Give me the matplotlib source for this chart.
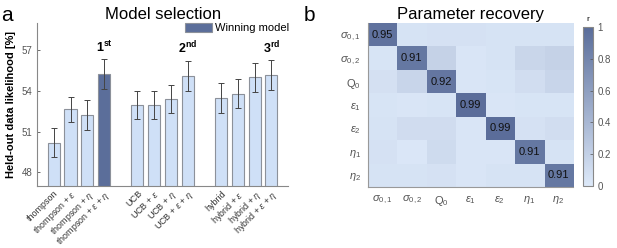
import numpy as np
import matplotlib
matplotlib.use('Agg')
import matplotlib.pyplot as plt
from matplotlib.colors import LinearSegmentedColormap
from matplotlib.patches import Patch

plt.rcParams['font.family'] = ['Liberation Sans', 'DejaVu Sans']
plt.rcParams['mathtext.fontset'] = 'custom'
plt.rcParams['mathtext.rm'] = 'Liberation Sans'
plt.rcParams['mathtext.it'] = 'Liberation Sans:italic'
plt.rcParams['mathtext.bf'] = 'Liberation Sans:bold'

# --- data: model selection ---
model_labels = ['thompson', r'thompson + $\epsilon$', r'thompson + $\eta$', r'thompson + $\epsilon$ + $\eta$',
                'UCB', r'UCB + $\epsilon$', r'UCB + $\eta$', r'UCB + $\epsilon$ + $\eta$',
                'hybrid', r'hybrid + $\epsilon$', r'hybrid + $\eta$', r'hybrid + $\epsilon$ + $\eta$']
bar_pos = [1, 2, 3, 4, 6, 7, 8, 9, 11, 12, 13, 14]
likelihood = [50.2, 52.65, 52.25, 55.25, 52.95, 52.95, 53.4, 55.1, 53.48, 53.8, 55.0, 55.15]
likelihood_se = [1.05, 0.92, 1.12, 1.08, 1.05, 1.05, 1.06, 1.12, 1.07, 1.08, 1.08, 1.1]
winner_idx = 3
rank_idx = [3, 7, 11]
rank_text = [r'$\mathbf{1^{st}}$', r'$\mathbf{2^{nd}}$', r'$\mathbf{3^{rd}}$']

# --- data: parameter recovery ---
param_labels = [r'$\sigma_{0,1}$', r'$\sigma_{0,2}$', r'Q$_0$', r'$\epsilon_1$', r'$\epsilon_2$', r'$\eta_1$', r'$\eta_2$']
recovery = np.array([
    [0.95, 0.05, 0.06, 0.06, 0.05, 0.05, 0.05],
    [0.04, 0.91, 0.18, 0.03, 0.05, 0.15, 0.18],
    [0.07, 0.16, 0.92, 0.03, 0.04, 0.09, 0.16],
    [0.04, 0.03, 0.04, 0.99, 0.03, 0.04, 0.04],
    [0.05, 0.10, 0.10, 0.03, 0.99, 0.06, 0.09],
    [0.06, 0.02, 0.11, 0.03, 0.03, 0.91, 0.05],
    [0.05, 0.05, 0.06, 0.03, 0.05, 0.05, 0.91],
])

light = '#cfe0f7'
dark = '#5b6e9a'
edge = '#8c919a'
grey = '#555555'

fig = plt.figure(figsize=(6.17, 2.48), dpi=100)

# ---------- panel a ----------
ax = fig.add_axes([0.060, 0.25, 0.407, 0.657])
colors = [dark if i == winner_idx else light for i in range(len(likelihood))]
ax.bar(bar_pos, likelihood, width=0.72, color=colors, edgecolor=edge, linewidth=0.8, bottom=0)
ax.errorbar(bar_pos, likelihood, yerr=likelihood_se, fmt='none', ecolor='#444444',
            elinewidth=0.7, capsize=2.5, capthick=0.7)
for i, t in zip(rank_idx, rank_text):
    ax.text(bar_pos[i], likelihood[i] + likelihood_se[i] + 0.3, t, ha='center', va='bottom', fontsize=9)
ax.set_ylim(47, 59)
ax.set_xlim(0, 15)
ax.set_yticks([48, 51, 54, 57])
ax.set_xticks(bar_pos)
ax.set_xticklabels(model_labels, rotation=45, ha='right', rotation_mode='anchor', fontsize=6.5, color='#333333')
ax.tick_params(axis='x', length=0, pad=2)
ax.tick_params(axis='y', direction='in', length=2, labelsize=7, colors=grey, width=0.6)
for s in ['top', 'right']:
    ax.spines[s].set_visible(False)
for s in ['left', 'bottom']:
    ax.spines[s].set_color('#888888')
    ax.spines[s].set_linewidth(0.8)
ax.set_ylabel('Held-out data likelihood [%]', fontsize=8, fontweight='bold', labelpad=4)
ax.set_title('Model selection', fontsize=12, pad=3)
ax.legend(handles=[Patch(facecolor=dark, edgecolor=edge, linewidth=0.8)], labels=['Winning model'],
          loc='upper right', bbox_to_anchor=(1.02, 1.03), frameon=False, fontsize=8,
          handlelength=2.5, handleheight=0.9, handletextpad=0.2, borderaxespad=0)
fig.text(0.002, 0.915, 'a', fontsize=15)

# ---------- panel b ----------
cmap = LinearSegmentedColormap.from_list('blues', ['#dde9f9', '#5a6d9a'])
axb = fig.add_axes([0.596, 0.246, 0.333, 0.661])
im = axb.imshow(recovery, cmap=cmap, vmin=0, vmax=1, aspect='auto')
for i in range(len(param_labels)):
    axb.text(i, i, f'{recovery[i, i]:.2f}', ha='center', va='center', fontsize=8, color='#111111')
axb.set_xticks(range(len(param_labels)))
axb.set_yticks(range(len(param_labels)))
axb.set_xticklabels(param_labels, fontsize=8, color=grey)
axb.set_yticklabels(param_labels, fontsize=8, color=grey)
axb.tick_params(length=0, pad=5)
for s in ['top', 'right']:
    axb.spines[s].set_visible(False)
for s in ['left', 'bottom']:
    axb.spines[s].set_color('#999999')
    axb.spines[s].set_linewidth(0.8)
axb.set_title('Parameter recovery', fontsize=12, pad=3)
fig.text(0.492, 0.915, 'b', fontsize=15)

cax = fig.add_axes([0.945, 0.25, 0.016, 0.641])
cb = fig.colorbar(im, cax=cax, ticks=[0, 0.2, 0.4, 0.6, 0.8, 1])
cb.ax.set_yticklabels(['0', '0.2', '0.4', '0.6', '0.8', '1'])
cb.ax.tick_params(labelsize=7, length=2, direction='in', colors=grey, width=0.5)
cb.outline.set_edgecolor('#888888')
cb.outline.set_linewidth(0.8)
cax.set_title('r', fontsize=6, pad=4)

fig.savefig('out.png', dpi=100)
